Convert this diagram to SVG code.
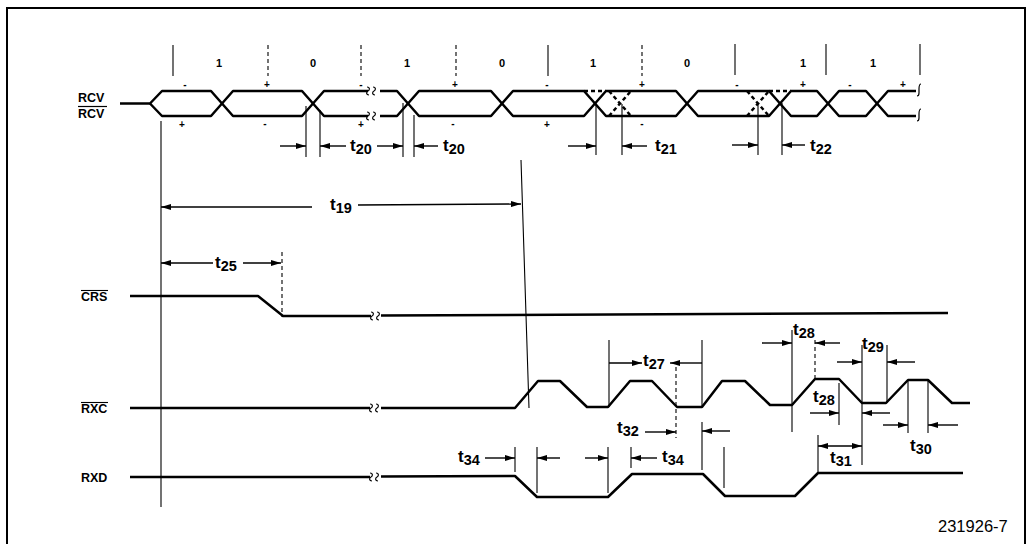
<svg xmlns="http://www.w3.org/2000/svg" width="1033" height="544" viewBox="0 0 1033 544">
<style>
.sig{fill:none;stroke:#000;stroke-width:2.5;stroke-linejoin:round;stroke-linecap:butt}
.ref{fill:none;stroke:#000;stroke-width:1.1}
.dsh{stroke-dasharray:4 3}
.arr{fill:none;stroke:#000;stroke-width:1.4;marker-end:url(#ah)}
.arr2{fill:none;stroke:#000;stroke-width:1.4;marker-end:url(#ah);marker-start:url(#ah)}
.brk{fill:none;stroke:#000;stroke-width:1.2}
.t{font-family:"Liberation Sans",Arial,sans-serif;font-weight:bold;font-size:17px;fill:#000}
.s{font-size:14.5px}
.nm{font-family:"Liberation Sans",Arial,sans-serif;font-weight:bold;font-size:12.5px;fill:#000}
.bit{font-family:"Liberation Sans",Arial,sans-serif;font-weight:bold;font-size:11px;fill:#000;text-anchor:middle}
.pm{font-family:"Liberation Sans",Arial,sans-serif;font-weight:bold;font-size:10px;fill:#000;text-anchor:middle}
.fig{font-family:"Liberation Sans",Arial,sans-serif;font-size:16.5px;fill:#000}
</style>
<defs>
<marker id="ah" markerUnits="userSpaceOnUse" viewBox="0 0 10 6" refX="10" refY="3" markerWidth="10" markerHeight="6" orient="auto-start-reverse">
<path d="M0 0 L10 3 L0 6 z" fill="#000"/>
</marker>
</defs>
<rect width="1033" height="544" fill="#fff"/>
<path d="M7 544 V8 H1025 V544" fill="none" stroke="#000" stroke-width="2"/>

<g id="rcv">
<text class="nm" x="78" y="102">RCV</text>
<line x1="78" y1="106.5" x2="107" y2="106.5" stroke="#000" stroke-width="1.2"/>
<text class="nm" x="78" y="118">RCV</text>
<path class="sig" d="M120 103.5 L150 103.5 L162 91 H211 L233 116 H302 L324 91 H368 M380 91 H397 L419 116 H491 L513 91 H584 L606 116 H676 L698 91 H769 L791 116 H817 L839 91 H866 L888 116 H916"/>
<path class="sig" d="M150 103.5 L162 116 H211 L233 91 H302 L324 116 H368 M380 116 H397 L419 91 H491 L513 116 H584 L606 91 H676 L698 116 H769 L791 91 H817 L839 116 H866 L888 91 H916"/>
<path class="sig dsh" stroke-width="1.6" d="M584 91 H606 M609 91 L631 116 M609 116 L631 91 M747 91 L769 116 M747 116 L769 91 M769 91 H791"/>
<path class="brk" d="M367 87 c3 0 3 3 1 4 c-2 1 -2 4 1 4 M373 87 c3 0 3 3 1 4 c-2 1 -2 4 1 4 M367 112 c3 0 3 3 1 4 c-2 1 -2 4 1 4 M373 112 c3 0 3 3 1 4 c-2 1 -2 4 1 4"/>
<path class="brk" d="M921 84 c-2 0 -2 3 -2 5 v4 c0 2 -1 3 -2 3 M921 109 c-2 0 -2 3 -2 5 v4 c0 2 -1 3 -2 3"/>
<text class="bit" x="219" y="67">1</text>
<text class="bit" x="313" y="67">0</text>
<text class="bit" x="407" y="67">1</text>
<text class="bit" x="502" y="67">0</text>
<text class="bit" x="593" y="67">1</text>
<text class="bit" x="687" y="67">0</text>
<text class="bit" x="803" y="67">1</text>
<text class="bit" x="873" y="67">1</text>
<text class="pm" x="185" y="88">-</text>
<text class="pm" x="267" y="88">+</text>
<text class="pm" x="361" y="88">-</text>
<text class="pm" x="455" y="88">+</text>
<text class="pm" x="547" y="88">-</text>
<text class="pm" x="642" y="88">+</text>
<text class="pm" x="737" y="88">-</text>
<text class="pm" x="803" y="88">+</text>
<text class="pm" x="850" y="88">-</text>
<text class="pm" x="903" y="88">+</text>
<text class="pm" x="182" y="128">+</text>
<text class="pm" x="265" y="127">-</text>
<text class="pm" x="361" y="128">+</text>
<text class="pm" x="453" y="127">-</text>
<text class="pm" x="547" y="128">+</text>
<text class="pm" x="642" y="127">-</text>
</g>

<g id="crs">
<text class="nm" x="81" y="301">CRS</text>
<line x1="81" y1="290.5" x2="108" y2="290.5" stroke="#000" stroke-width="1.1"/>
<path class="sig" d="M130 296 L258 296 L283 316 L371 316 M381 315.5 L948 313"/>
<path class="brk" d="M371 312 c3 0 3 3 1 4 c-2 1 -2 4 1 4 M377 312 c3 0 3 3 1 4 c-2 1 -2 4 1 4"/>
</g>

<g id="rxc">
<text class="nm" x="81" y="413">RXC</text>
<line x1="81" y1="402.5" x2="108" y2="402.5" stroke="#000" stroke-width="1.1"/>
<path class="sig" d="M130 408 L370 408 M381 408 L515 408 L538 381 L560 381 L587 407 L608 407 L630 381 L652 381 L677 407 L702 407 L722 381 L745 381 L770 405 L792 405 L815 379 L839 379 L862 403 L886 403 L908 380 L928 380 L952 403 L970 403"/>
<path class="brk" d="M370 404 c3 0 3 3 1 4 c-2 1 -2 4 1 4 M376 404 c3 0 3 3 1 4 c-2 1 -2 4 1 4"/>
</g>

<g id="rxd">
<text class="nm" x="81" y="482">RXD</text>
<path class="sig" d="M130 477 L370 477 M381 476.5 L515 476 L537 497 L608 497 L632 474 L703 474 L725 496 L795 496 L818 473 L963 473"/>
<path class="brk" d="M370 473 c3 0 3 3 1 4 c-2 1 -2 4 1 4 M376 473 c3 0 3 3 1 4 c-2 1 -2 4 1 4"/>
</g>

<g id="connectors">
<path class="ref" d="M161 121 V507 M521 160 L529 408"/>
<path class="ref" d="M173 45 V76 M548 45 V76 M735 44 V75 M826 44 V75 M920 44 V75"/>
<path class="ref dsh" d="M268 45 V76 M361 45 V76 M456 45 V76 M642 45 V76"/>
<path class="ref" d="M306 106 V157 M320 110 V157 M403 103 V157 M414 115 V157 M596 104 V155 M622 104 V155 M758 103 V155 M782 103 V155"/>
<path class="ref dsh" d="M282 252 V317 M676 367 V438 M815 340 V379"/>
<path class="ref" d="M609 340 V407 M702 340 V407 M702 422 V470 M792 330 V432 M839 383 V425 M862 345 V465 M887 345 V403 M908 380 V433 M928 380 V433"/>
<path class="ref" d="M515 447 V472 M537 447 V493 M608 447 V493 M631 447 V468 M724 447 V488 M818 435 V472"/>

<line class="arr" x1="280" y1="146" x2="306" y2="146"/>
<line class="arr" x1="346" y1="146" x2="320" y2="146"/>
<line class="arr" x1="377" y1="146" x2="403" y2="146"/>
<line class="arr" x1="438" y1="146" x2="414" y2="146"/>
<line class="arr" x1="568" y1="146" x2="596" y2="146"/>
<line class="arr" x1="647" y1="146" x2="622" y2="146"/>
<line class="arr" x1="732" y1="145" x2="758" y2="145"/>
<line class="arr" x1="805" y1="145" x2="782" y2="145"/>
<line class="arr" x1="312" y1="207" x2="161" y2="207"/>
<line class="arr" x1="358" y1="205" x2="521" y2="204"/>
<line class="arr" x1="213" y1="263" x2="161" y2="263"/>
<line class="arr" x1="243" y1="263" x2="281" y2="263"/>
<line class="arr" x1="609" y1="363" x2="642" y2="363"/>
<line class="arr" x1="702" y1="363" x2="670" y2="363"/>
<line class="arr" x1="762" y1="343" x2="792" y2="343"/>
<line class="arr" x1="840" y1="343" x2="815" y2="343"/>
<line class="arr" x1="837" y1="362" x2="862" y2="362"/>
<line class="arr" x1="915" y1="362" x2="887" y2="362"/>
<line class="arr" x1="810" y1="413" x2="839" y2="413"/>
<line class="arr" x1="890" y1="413" x2="862" y2="413"/>
<line class="arr" x1="883" y1="425" x2="908" y2="425"/>
<line class="arr" x1="958" y1="425" x2="928" y2="425"/>
<line class="arr2" x1="818" y1="446" x2="862" y2="446"/>
<line class="arr" x1="645" y1="432" x2="676" y2="432"/>
<line class="arr" x1="730" y1="431" x2="702" y2="431"/>
<line class="arr" x1="485" y1="458" x2="515" y2="458"/>
<line class="arr" x1="560" y1="458" x2="537" y2="458"/>
<line class="arr" x1="585" y1="458" x2="608" y2="458"/>
<line class="arr" x1="657" y1="458" x2="631" y2="458"/>
</g>

<g id="timing-labels">
<text class="t" x="350" y="151">t<tspan class="s" dy="3">20</tspan></text>
<text class="t" x="443" y="151">t<tspan class="s" dy="3">20</tspan></text>
<text class="t" x="655" y="151">t<tspan class="s" dy="3">21</tspan></text>
<text class="t" x="810" y="151">t<tspan class="s" dy="3">22</tspan></text>
<text class="t" x="330" y="210">t<tspan class="s" dy="3">19</tspan></text>
<text class="t" x="215" y="268">t<tspan class="s" dy="3">25</tspan></text>
<text class="t" x="643" y="366">t<tspan class="s" dy="3">27</tspan></text>
<text class="t" x="793" y="335">t<tspan class="s" dy="3">28</tspan></text>
<text class="t" x="862" y="349">t<tspan class="s" dy="3">29</tspan></text>
<text class="t" x="813" y="402">t<tspan class="s" dy="3">28</tspan></text>
<text class="t" x="910" y="451">t<tspan class="s" dy="3">30</tspan></text>
<text class="t" x="830" y="463">t<tspan class="s" dy="3">31</tspan></text>
<text class="t" x="617" y="433">t<tspan class="s" dy="3">32</tspan></text>
<text class="t" x="458" y="462">t<tspan class="s" dy="3">34</tspan></text>
<text class="t" x="662" y="462">t<tspan class="s" dy="3">34</tspan></text>
<text class="fig" x="938" y="532">231926-7</text>
</g>
</svg>
